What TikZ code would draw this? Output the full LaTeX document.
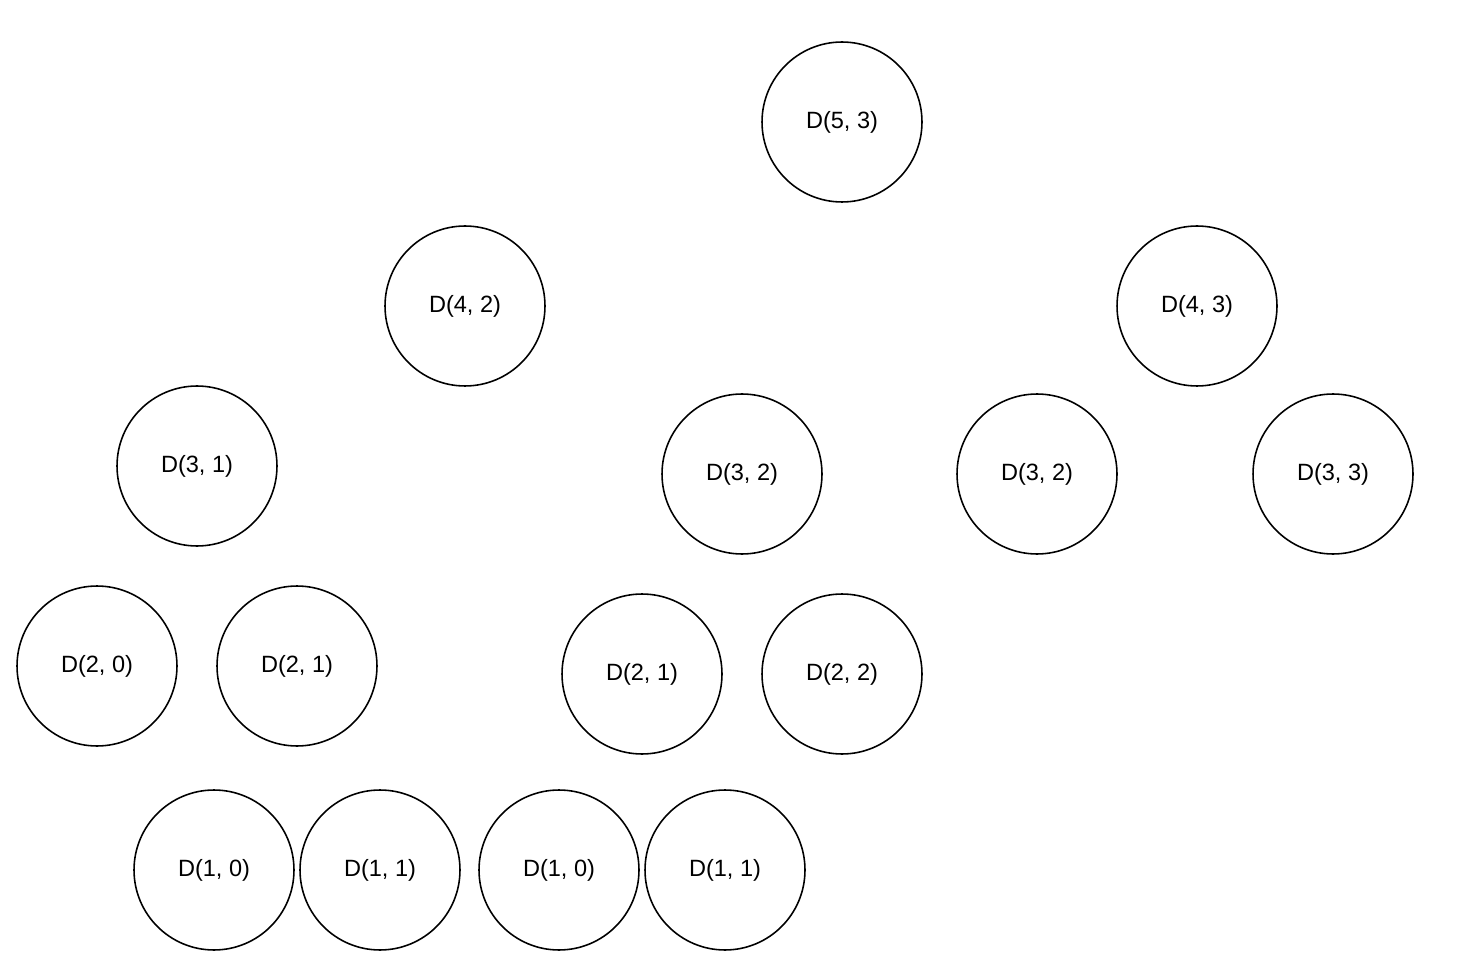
\documentclass[tikz,border=0pt]{standalone}
\usepackage{fontspec}
\setmainfont{Liberation Sans}
\usetikzlibrary{positioning}
\tikzset{
x=0.02cm, y=-0.02cm, % one unit is one pixel of the sketch
call/.style={circle, draw, line width=0.9pt, minimum size=3.2cm, inner sep=0pt, font=\fontsize{13.4}{16}\selectfont}, % sets the properties for each call node
}

\begin{document}
\begin{tikzpicture}
        \useasboundingbox (0,0) rectangle (1464,976);

        % top of the recursion
        \node[call] (d53) at (842,122) {D(5, 3)};
        \node[call] (d42) at (465,306) {D(4, 2)};
        \node[call] (d43) at (1197,306) {D(4, 3)};

        % third level
        \node[call] (d31) at (197,466) {D(3, 1)};
        \node[call] (d32a) at (742,474) {D(3, 2)};
        \node[call] (d32b) at (1037,474) {D(3, 2)};
        \node[call] (d33) at (1333,474) {D(3, 3)};

        % second level
        \node[call] (d20) at (97,666) {D(2, 0)};
        \node[call] (d21a) at (297,666) {D(2, 1)};
        \node[call] (d21b) at (642,674) {D(2, 1)};
        \node[call] (d22) at (842,674) {D(2, 2)};

        % bottom level
        \node[call] (d10a) at (214,870) {D(1, 0)};
        \node[call] (d11a) at (380,870) {D(1, 1)};
        \node[call] (d10b) at (559,870) {D(1, 0)};
        \node[call] (d11b) at (725,870) {D(1, 1)};
    \end{tikzpicture}
\end{document}
